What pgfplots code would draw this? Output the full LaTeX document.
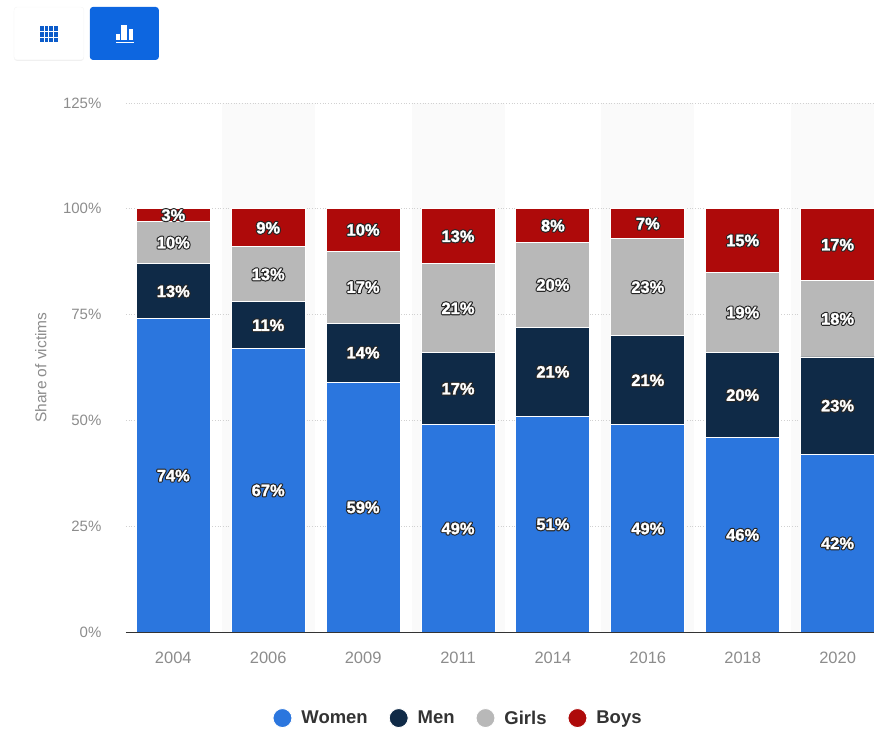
\documentclass[border=0pt]{standalone}
\usepackage{fontspec}
\setmainfont{Liberation Sans}
\usepackage{pgfplots}
\usepackage{pgfplotstable}
\pgfplotsset{compat=1.18}
\usetikzlibrary{shadows}

\definecolor{womenblue}{HTML}{2B76DE}
\definecolor{mennavy}{HTML}{0F2A47}
\definecolor{girlsgray}{HTML}{B8B8B8}
\definecolor{boysred}{HTML}{AE0A0A}
\definecolor{tickgray}{HTML}{8C8C8C}
\definecolor{btnblue}{HTML}{0D66E0}

% Bar values: a dark stroked halo with the white glyphs set on top of it
\newcommand{\outlined}[1]{%
  \rlap{\textcolor{black!85}{\special{pdf:code 1 Tr 2.6 w 1 j}#1\special{pdf:code 0 Tr 0.4 w 0 j}}}%
  \textcolor{white}{\special{pdf:code 2 Tr 0.25 w}#1\special{pdf:code 0 Tr 0.4 w}}}

% Shares of victims per survey year
\pgfplotstableread{
x women men girls boys
0 74 13 10 3
1 67 11 13 9
2 59 14 17 10
3 49 17 21 13
4 51 21 20 8
5 49 21 23 7
6 46 20 19 15
7 42 23 18 17
}\shares

% One stacked segment, with its value centred inside it
\pgfplotsset{
  segment/.style args={#1/#2}{
    fill=#2, draw=white, line width=0.9pt,
    point meta=\thisrow{#1},
    nodes near coords={\outlined{\textbf{\pgfmathprintnumber{\pgfplotspointmeta}\%}}},
    every node near coord/.append style={
      anchor=center, inner sep=0pt, font=\fontsize{16.5}{16.5}\selectfont},
  },
}

\begin{document}
\begin{tikzpicture}[x=1pt,y=1pt]
  % page frame in pixel units
  \path (0,0) rectangle (875,729);

  % view switch buttons
  \fill[white, draw=black!4, drop shadow={opacity=0.12, shadow xshift=0pt, shadow yshift=-1pt}, rounded corners=3pt] (14,669) rectangle (84,722);
  \fill[btnblue, rounded corners=3pt] (90,669) rectangle (159,722);
  \foreach \c in {0,1,2,3} \foreach \r in {0,1,2}
    \fill[btnblue!90!black] (40+\c*4.6,698-\r*5.6) rectangle +(3.8,4.6);
  \fill[white] (116,689) rectangle (120,695);
  \fill[white] (121.5,689) rectangle (127.5,704);
  \fill[white] (129,689) rectangle (133.5,700);
  \fill[white] (116,686) rectangle (134,687.2);

  % alternating column bands
  \begin{axis}[
    at={(126pt,96pt)}, anchor=south west, scale only axis, width=749pt, height=530pt,
    xmin=-0.5, xmax=7.384, ymin=0, ymax=125, hide axis, clip=true]
    \fill[black!2] (axis cs:0.51,0) rectangle (axis cs:1.49,125);
    \fill[black!2] (axis cs:2.51,0) rectangle (axis cs:3.49,125);
    \fill[black!2] (axis cs:4.51,0) rectangle (axis cs:5.49,125);
    \fill[black!2] (axis cs:6.51,0) rectangle (axis cs:7.384,125);
  \end{axis}

  \begin{axis}[
    at={(126pt,96pt)}, anchor=south west, scale only axis, width=749pt, height=530pt,
    ybar stacked, bar width=74pt,
    xmin=-0.5, xmax=7.384, ymin=0, ymax=125,
    axis x line=bottom, axis y line=left,
    x axis line style={draw=black!80, line width=1.1pt, -},
    y axis line style={draw=none},
    xtick=data,
    xticklabels={2004,2006,2009,2011,2014,2016,2018,2020},
    ytick={0,25,50,75,100,125},
    yticklabel={\pgfmathprintnumber{\tick}\%},
    major tick length=0pt,
    ymajorgrids,
    grid style={draw=black!18, line width=0.7pt, dotted},
    /pgf/number format/assume math mode=true,
    y tick label style={font=\fontsize{15}{16}\selectfont, text=tickgray, xshift=-21pt},
    x tick label style={font=\fontsize{16.5}{17}\selectfont, text=tickgray, yshift=-16pt},
    ylabel={Share of victims},
    ylabel style={font=\fontsize{15.5}{15.5}\selectfont, text=tickgray, at={(axis description cs:-0.1135,0.5)}, anchor=center},
    clip=false,
    legend columns=4,
    legend style={
      at={(axis description cs:0.444,-0.162)}, anchor=center, draw=none, fill=none,
      font=\fontsize{18.5}{18.5}\selectfont\bfseries, text=black!80,
      /tikz/every odd column/.append style={column sep=7pt},
      /tikz/every even column/.append style={column sep=19pt}},
    legend cell align=left,
    legend image code/.code={\fill[#1] (0.5em,0) circle (9.5pt);},
  ]
    \addplot[segment=women/womenblue] table[x=x, y=women] {\shares};
    \addplot[segment=men/mennavy] table[x=x, y=men] {\shares};
    \addplot[segment=girls/girlsgray] table[x=x, y=girls] {\shares};
    \addplot[segment=boys/boysred] table[x=x, y=boys] {\shares};
    \legend{Women,Men,Girls,Boys}
  \end{axis}

  % baseline running over the bar feet
  \begin{axis}[
    at={(126pt,96pt)}, anchor=south west, scale only axis, width=749pt, height=530pt,
    xmin=-0.5, xmax=7.384, ymin=0, ymax=125, hide axis, clip=false]
    \draw[black!80, line width=1.1pt] (axis cs:-0.5,0) -- (axis cs:7.384,0);
  \end{axis}
\end{tikzpicture}
\end{document}
